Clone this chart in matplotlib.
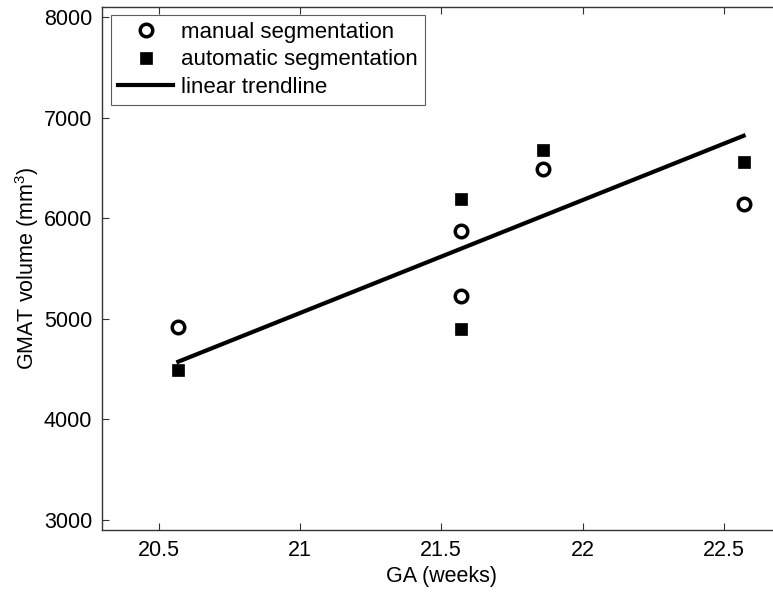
import matplotlib
matplotlib.use("Agg")
import matplotlib.pyplot as plt

plt.rcParams['font.family'] = ['Liberation Sans', 'DejaVu Sans']
plt.rcParams['mathtext.fontset'] = 'custom'
plt.rcParams['mathtext.rm'] = 'Liberation Sans'

# Data
ga_manual = [20.57, 21.57, 21.57, 21.86, 22.57]
vol_manual = [4920, 5875, 5230, 6490, 6145]
ga_auto = [20.57, 21.57, 21.57, 21.86, 22.57]
vol_auto = [4495, 6190, 4895, 6685, 6560]
trend_x = [20.57, 22.57]
trend_y = [4575, 6822]

xticks = [20.5, 21, 21.5, 22, 22.5]
xtick_labels = ['20.5', '21', '21.5', '22', '22.5']
yticks = [3000, 4000, 5000, 6000, 7000, 8000]

FS = 15.5

fig = plt.figure(figsize=(7.73, 5.93), dpi=100)
ax = fig.add_axes([0.132, 0.1062, 0.8775, 0.8815])

ax.plot(ga_manual, vol_manual, linestyle='none', marker='o', ms=9,
        mfc='white', mec='black', mew=2.5, label='manual segmentation', zorder=3)
ax.plot(ga_auto, vol_auto, linestyle='none', marker='s', ms=9,
        mfc='black', mec='black', mew=0.5, label='automatic segmentation', zorder=3)
ax.plot(trend_x, trend_y, color='black', lw=3, label='linear trendline', zorder=2)

ax.set_xlim(20.3, 22.7)
ax.set_ylim(2900, 8100)
ax.set_xticks(xticks)
ax.set_xticklabels(xtick_labels)
ax.set_yticks(yticks)
ax.tick_params(direction='in', length=5, width=0.8, top=True, right=False,
               labelsize=FS, colors='#333333', labelcolor='black', pad=7)
for s in ax.spines.values():
    s.set_color('#333333')
    s.set_linewidth(1.0)
ax.spines['right'].set_visible(False)

ax.set_xlabel('GA (weeks)', fontsize=FS, labelpad=4)
ax.set_ylabel('GMAT volume (mm$^3$)', fontsize=FS, labelpad=2)

leg = ax.legend(loc='upper left', bbox_to_anchor=(0.0135, 0.985), fontsize=16,
                frameon=True, fancybox=False, edgecolor='#333333',
                borderpad=0.3, labelspacing=0.3, handlelength=2.5,
                handletextpad=0.35, borderaxespad=0.0)
leg.get_frame().set_linewidth(0.8)

fig.savefig('out.png', dpi=100)
